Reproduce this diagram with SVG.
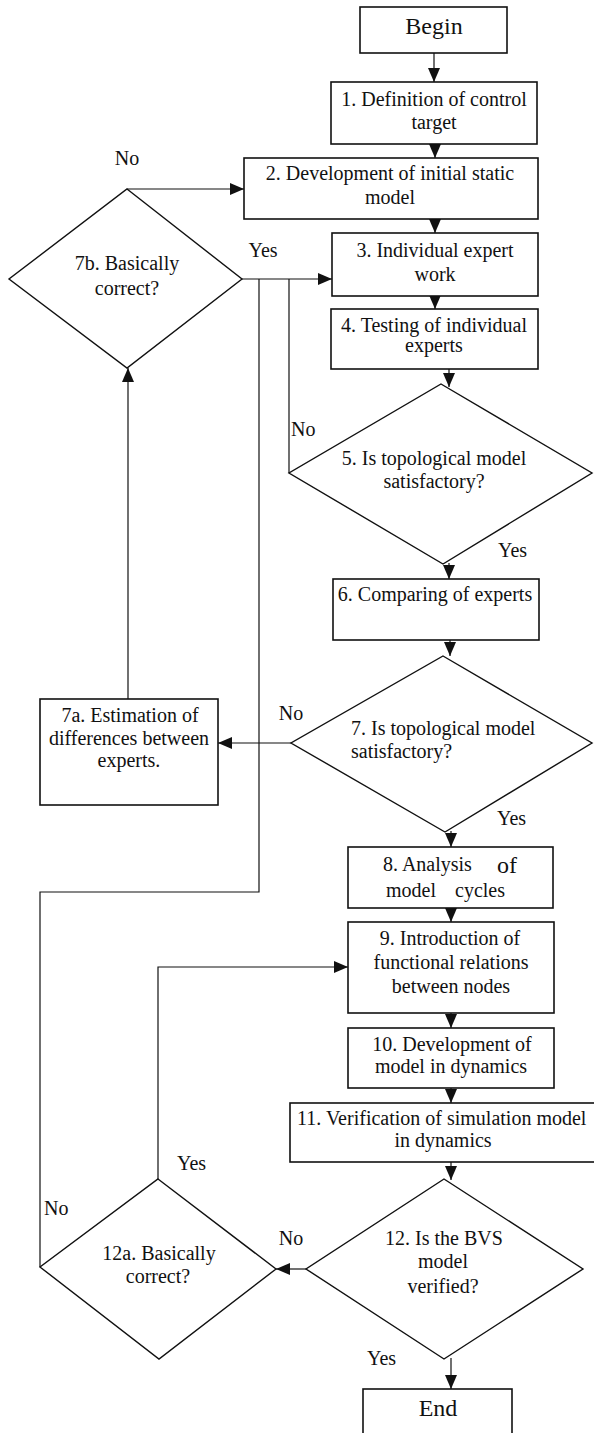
<svg xmlns="http://www.w3.org/2000/svg" width="594" height="1433" viewBox="0 0 594 1433">
<defs>
<style>
.box{fill:#fff;stroke:#111;stroke-width:1.6}
.dia{fill:none;stroke:#111;stroke-width:1.4}
.ln{fill:none;stroke:#111;stroke-width:1.2}
text{font-family:"Liberation Serif","Times New Roman",serif;font-size:20px;fill:#111}
.c{text-anchor:middle}
.big{font-size:24px}
</style>
<marker id="ah" markerUnits="userSpaceOnUse" markerWidth="15" markerHeight="13" refX="14" refY="6" orient="auto">
<path d="M0,0 L14,6 L0,12 Z" fill="#111"/>
</marker>
</defs>
<rect x="0" y="0" width="594" height="1433" fill="#fff"/>
<g id="connectors">
<path class="ln" d="M434,53 V82" marker-end="url(#ah)"/>
<path class="ln" d="M435,144 V158" marker-end="url(#ah)"/>
<path class="ln" d="M127,189 H244" marker-end="url(#ah)"/>
<path class="ln" d="M435,219 V233" marker-end="url(#ah)"/>
<path class="ln" d="M242,279 H332" marker-end="url(#ah)"/>
<path class="ln" d="M435,296 V309" marker-end="url(#ah)"/>
<path class="ln" d="M449,369 V387" marker-end="url(#ah)"/>
<path class="ln" d="M289,473 V279"/>
<path class="ln" d="M449,563 V579" marker-end="url(#ah)"/>
<path class="ln" d="M450,640 V656" marker-end="url(#ah)"/>
<path class="ln" d="M291,743 H218" marker-end="url(#ah)"/>
<path class="ln" d="M128,699 V368" marker-end="url(#ah)"/>
<path class="ln" d="M451,831 V847" marker-end="url(#ah)"/>
<path class="ln" d="M451,908 V922" marker-end="url(#ah)"/>
<path class="ln" d="M451,1013 V1028" marker-end="url(#ah)"/>
<path class="ln" d="M451,1088 V1103" marker-end="url(#ah)"/>
<path class="ln" d="M451,1162 V1180" marker-end="url(#ah)"/>
<path class="ln" d="M306,1269 H276" marker-end="url(#ah)"/>
<path class="ln" d="M158,1179 V967 H348" marker-end="url(#ah)"/>
<path class="ln" d="M40,1267 V892 H259 V279"/>
<path class="ln" d="M451,1358 V1389" marker-end="url(#ah)"/>
</g>
<g id="labels">
<text class="c" x="127" y="165">No</text>
<text class="c" x="263" y="257">Yes</text>
<text x="291" y="436">No</text>
<text x="498" y="557">Yes</text>
<text class="c" x="291" y="720">No</text>
<text x="497" y="825">Yes</text>
<text class="c" x="291" y="1245">No</text>
<text x="177" y="1170">Yes</text>
<text x="44" y="1215">No</text>
<text x="367" y="1365">Yes</text>
</g>
<g id="begin">
<rect class="box" x="360" y="7" width="147" height="46"/>
<text class="c big" x="434" y="34">Begin</text>
</g>
<g id="n1">
<rect class="box" x="331" y="82" width="206" height="62"/>
<text class="c" x="434" y="106">1. Definition of control</text>
<text class="c" x="434" y="129">target</text>
</g>
<g id="n2">
<rect class="box" x="244" y="158" width="294" height="61"/>
<text class="c" x="390" y="180">2. Development of initial static</text>
<text class="c" x="390" y="204">model</text>
</g>
<g id="n3">
<rect class="box" x="332" y="233" width="206" height="63"/>
<text class="c" x="435" y="257">3. Individual expert</text>
<text class="c" x="435" y="281">work</text>
</g>
<g id="n4">
<rect class="box" x="331" y="309" width="207" height="60"/>
<text class="c" x="434" y="332">4. Testing of individual</text>
<text class="c" x="434" y="352">experts</text>
</g>
<g id="n7b">
<polygon class="dia" points="127,189 242,279 127,368 9,279"/>
<text class="c" x="127" y="270">7b. Basically</text>
<text class="c" x="127" y="295">correct?</text>
</g>
<g id="n5">
<polygon class="dia" points="441,384 592,473 443,564 289,473"/>
<text class="c" x="434" y="465">5. Is topological model</text>
<text class="c" x="434" y="488">satisfactory?</text>
</g>
<g id="n6">
<rect class="box" x="333" y="579" width="206" height="61"/>
<text class="c" x="435" y="601">6. Comparing of experts</text>
</g>
<g id="n7">
<polygon class="dia" points="443,656 592,743 445,832 291,743"/>
<text x="351" y="735">7. Is topological model</text>
<text x="351" y="758">satisfactory?</text>
</g>
<g id="n7a">
<rect class="box" x="40" y="699" width="178" height="106"/>
<text class="c" x="130" y="722">7a. Estimation of</text>
<text class="c" x="129" y="745">differences between</text>
<text class="c" x="129" y="767">experts.</text>
</g>
<g id="n8">
<rect class="box" x="348" y="847" width="205" height="61"/>
<text x="383" y="871">8. Analysis</text>
<text class="big" x="497" y="873">of</text>
<text x="386" y="897">model</text>
<text x="455" y="897">cycles</text>
</g>
<g id="n9">
<rect class="box" x="348" y="922" width="206" height="91"/>
<text class="c" x="450" y="945">9. Introduction of</text>
<text class="c" x="451" y="969">functional relations</text>
<text class="c" x="451" y="993">between nodes</text>
</g>
<g id="n10">
<rect class="box" x="348" y="1028" width="206" height="60"/>
<text class="c" x="452" y="1051">10. Development of</text>
<text class="c" x="451" y="1073">model in dynamics</text>
</g>
<g id="n11">
<rect class="box" x="290" y="1103" width="310" height="59"/>
<text x="297" y="1125">11. Verification of simulation model</text>
<text class="c" x="443" y="1147">in dynamics</text>
</g>
<g id="n12">
<polygon class="dia" points="444,1179 583,1269 444,1359 306,1269"/>
<text class="c" x="444" y="1245">12. Is the BVS</text>
<text class="c" x="443" y="1268">model</text>
<text class="c" x="443" y="1293">verified?</text>
</g>
<g id="n12a">
<polygon class="dia" points="158,1179 276,1269 159,1359 40,1267"/>
<text class="c" x="159" y="1260">12a. Basically</text>
<text class="c" x="158" y="1283">correct?</text>
</g>
<g id="end">
<rect class="box" x="363" y="1389" width="149" height="52"/>
<text class="c big" x="438" y="1416">End</text>
</g>
</svg>
